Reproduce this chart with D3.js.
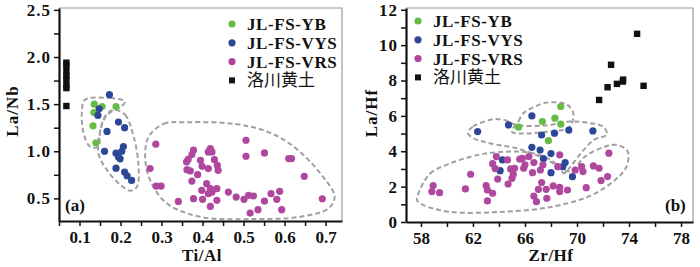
<!DOCTYPE html>
<html>
<head>
<meta charset="utf-8">
<script src="https://cdn.jsdelivr.net/npm/d3@7"></script>
<style>
body { margin: 0; background: #fff; }
svg text { font-family: "Liberation Serif", "Times New Roman", "Noto Sans CJK SC", serif; font-weight: bold; fill: #111; }
</style>
</head>
<body>
<svg width="700" height="267"></svg>
<script>
// ---- data (a) Ti/Al vs La/Nb ----
const seriesNames = ['JL-FS-YB', 'JL-FS-VYS', 'JL-FS-VRS', '洛川黄土'];
const seriesColors = ['#66bb44', '#2c4797', '#b0479e', '#111111'];

const ybA = [[0.136,1.50],[0.135,1.41],[0.155,1.475],[0.189,1.475],[0.133,1.27],[0.140,1.09]];
const vysA = [[0.173,1.60],[0.148,1.45],[0.145,1.38],[0.167,1.21],[0.195,1.31],[0.210,1.25],
	[0.161,1.00],[0.207,1.05],[0.203,1.00],[0.189,0.98],[0.195,0.94],[0.199,0.92],
	[0.189,0.82],[0.210,0.78],[0.216,0.74],[0.227,0.69]];
const vrsA = [[0.286,1.075],[0.272,0.816],[0.287,0.631],[0.299,0.631],[0.341,0.468],
	[0.378,1.011],[0.374,0.965],[0.365,0.915],[0.361,0.887],[0.362,0.805],[0.370,0.791],
	[0.388,0.752],[0.374,0.684],[0.395,0.904],[0.399,0.840],[0.414,0.816],[0.419,1.028],
	[0.414,0.993],[0.423,0.993],[0.429,0.911],[0.436,0.851],[0.438,0.798],[0.410,0.656],
	[0.419,0.603],[0.398,0.585],[0.423,0.567],[0.414,0.550],[0.435,0.603],[0.378,0.497],
	[0.400,0.490],[0.419,0.415],[0.435,0.479],[0.463,0.567],[0.482,0.514],[0.501,0.490],
	[0.512,0.532],[0.524,0.525],[0.516,0.344],[0.535,0.380],[0.506,1.117],[0.506,0.947],
	[0.551,0.982],[0.551,0.472],[0.567,0.550],[0.588,0.575],[0.581,0.490],[0.593,0.380],
	[0.610,0.922],[0.617,0.922],[0.648,0.734],[0.692,0.496]];
const loessAx = 0.068;
const loessAy = [1.94,1.91,1.85,1.80,1.76,1.70,1.67,1.48];

const outlineA = [
	[[0.113,1.546],[0.175,1.564],[0.211,1.528],[0.200,1.468],[0.167,1.386],[0.151,1.227],[0.146,1.05],[0.126,1.05],[0.110,1.19],[0.106,1.44]],
	[[0.183,1.44],[0.211,1.387],[0.232,1.156],[0.244,0.837],[0.240,0.624],[0.224,0.582],[0.200,0.642],[0.167,0.80],[0.146,0.98],[0.151,1.227],[0.162,1.369]],
	[[0.269,1.156],[0.305,1.29],[0.362,1.308],[0.476,1.291],[0.557,1.209],[0.622,1.05],[0.687,0.766],[0.722,0.518],[0.707,0.394],[0.638,0.305],[0.517,0.28],[0.394,0.305],[0.313,0.447],[0.272,0.695],[0.260,0.943]]
];
const ticksAx = [0.1,0.2,0.3,0.4,0.5,0.6,0.7];
const ticksAy = [0.5,1.0,1.5,2.0,2.5];

// ---- data (b) Zr/Hf vs La/Hf ----
const ybB = [[68.75,6.53],[68.3,5.87],[67.34,5.68],[68.75,5.53],[65.5,5.36],[67.8,4.60]];
const vysB = [[62.36,5.11],[64.73,5.49],[66.53,6.0],[67.28,4.92],[68.27,5.02],[69.37,5.2],
	[71.22,5.15],[66.53,4.22],[67.16,4.07],[68.0,3.87],[67.42,3.58],[69.09,3.36],
	[68.91,3.13],[68.0,2.79],[69.65,2.56],[64.27,3.51],[64.09,2.9]];
const vrsB = [[58.94,2.06],[58.84,1.72],[59.43,1.66],[61.42,1.87],[61.82,2.70],[63.01,2.06],
	[63.11,1.81],[63.51,1.62],[63.11,1.19],[63.8,3.70],[63.51,3.30],[63.71,3.02],[63.9,2.43],
	[64.7,2.15],[65.0,2.47],[65.1,2.70],[64.9,3.0],[64.65,3.51],[65.2,3.04],[65.6,3.55],
	[65.8,3.60],[65.9,3.04],[66.0,3.23],[66.3,3.70],[66.68,3.36],[66.58,2.79],[67.38,3.23],
	[67.18,2.94],[68.67,3.79],[68.52,3.13],[67.28,2.23],[67.03,1.85],[66.68,1.47],[66.88,1.15],
	[67.68,1.34],[67.63,1.85],[68.17,2.04],[68.67,1.96],[68.67,1.72],[69.27,1.81],[69.86,2.94],
	[70.36,3.13],[70.46,2.85],[70.71,1.94],[71.26,3.17],[71.7,3.04],[71.85,2.34],[72.35,2.57],
	[72.45,3.89]];
const loessB = [[74.62,10.64],[72.62,8.89],[72.35,7.62],[73.07,7.81],[73.52,7.94],[73.55,8.05],[75.12,7.70],[71.7,6.90]];

const outlineB = [
	[[64.98,5.11],[65.5,5.7],[65.87,6.15],[66.7,6.5],[67.67,6.75],[69.2,6.65],[69.72,6.15],[69.6,5.59],[69.3,5.3],[67.67,5.1],[65.87,5.0]],
	[[61.6,5.05],[62.0,5.4],[62.54,5.59],[63.56,5.81],[64.5,5.75],[65.3,5.5],[67.5,5.45],[69.46,5.68],[71.0,5.59],[72.0,5.39],[72.3,4.95],[71.3,4.64],[70.3,3.89],[69.5,3.13],[69.0,2.75],[68.6,3.1],[67.7,3.51],[66.5,3.89],[65.37,4.17],[63.3,4.45],[62.0,4.75]],
	[[57.8,1.61],[58.7,2.74],[60.25,3.31],[62.3,3.78],[64.4,3.97],[66.45,3.91],[68.0,3.50],[69.0,2.9],[69.6,2.9],[70.6,3.69],[72.1,4.25],[73.15,4.35],[73.9,3.97],[73.8,3.12],[72.9,2.36],[71.1,1.51],[68.0,0.85],[64.1,0.57],[60.25,0.57],[58.2,0.95],[57.7,1.23]]
];
const ticksBx = [58,62,66,70,74,78];
const ticksBy = [0,2,4,6,8,10,12];

const svg = d3.select('svg');

function drawPanel(cfg) {
	let g = svg.append('g');
	let x = d3.scaleLinear().domain(cfg.xDomain).range([cfg.left, cfg.right]);
	let y = d3.scaleLinear().domain(cfg.yDomain).range([cfg.bottom, cfg.top]);

	// frame top/right
	g.append('path')
		.attr('d', 'M' + cfg.left + ',' + cfg.top + 'H' + cfg.right + 'V' + cfg.bottom)
		.attr('fill', 'none').attr('stroke', '#9a9a9a').attr('stroke-width', 1.2);

	// dashed group outlines
	let outline = d3.line().x(d => x(d[0])).y(d => y(d[1])).curve(d3.curveCatmullRomClosed.alpha(0.5));
	g.selectAll('path.outline').data(cfg.outlines).enter().append('path')
		.attr('class', 'outline')
		.attr('d', outline)
		.attr('fill', 'none').attr('stroke', '#a0a0a0').attr('stroke-width', 2)
		.attr('stroke-dasharray', '5,3');

	// points
	cfg.dots.forEach(function(s, i) {
		g.append('g').selectAll('circle').data(s).enter().append('circle')
			.attr('cx', d => x(d[0])).attr('cy', d => y(d[1]))
			.attr('r', 3.6).attr('fill', seriesColors[i]);
	});
	g.append('g').selectAll('rect').data(cfg.squares).enter().append('rect')
		.attr('x', d => x(d[0]) - 3.2).attr('y', d => y(d[1]) - 3.2)
		.attr('width', 6.4).attr('height', 6.4).attr('fill', seriesColors[3]);

	// axes
	let xMinor = g.append('g').attr('transform', 'translate(0,' + cfg.bottom + ')')
		.call(d3.axisBottom(x).tickValues(cfg.xMinor).tickSize(5).tickFormat(''));
	let xAxis = g.append('g').attr('transform', 'translate(0,' + cfg.bottom + ')')
		.call(d3.axisBottom(x).tickValues(cfg.xTicks).tickSize(5).tickSizeOuter(0).tickPadding(5).tickFormat(cfg.xFormat));
	let yMinor = g.append('g').attr('transform', 'translate(' + cfg.left + ',0)')
		.call(d3.axisLeft(y).tickValues(cfg.yMinor).tickSize(5).tickFormat(''));
	let yAxis = g.append('g').attr('transform', 'translate(' + cfg.left + ',0)')
		.call(d3.axisLeft(y).tickValues(cfg.yTicks).tickSize(5).tickSizeOuter(0).tickPadding(3).tickFormat(cfg.yFormat));
	[xMinor, yMinor].forEach(a => a.select('.domain').remove());
	[xMinor, xAxis, yMinor, yAxis].forEach(function(a) {
		a.selectAll('line').attr('stroke', '#111').attr('stroke-width', 1.5);
		a.select('.domain').attr('stroke', '#111').attr('stroke-width', 2.2);
		a.selectAll('text').style('font-size', '17px').attr('fill', '#111');
	});
	yAxis.selectAll('text').style('letter-spacing', '1px');

	// axis titles
	g.append('text').attr('x', cfg.xTitleX).attr('y', 261).attr('text-anchor', 'middle')
		.style('font-size', '17px').style('letter-spacing', '0.5px').text(cfg.xTitle);
	g.append('text').attr('transform', 'translate(' + cfg.yTitleX + ',' + cfg.yTitleY + ') rotate(-90)')
		.attr('text-anchor', 'middle').style('font-size', '17px').style('letter-spacing', '1px').text(cfg.yTitle);

	// panel tag
	g.append('text').attr('x', cfg.tagX).attr('y', 211).style('font-size', '17px').text(cfg.tag);

	// legend
	let leg = g.append('g').selectAll('g').data(seriesNames).enter().append('g')
		.attr('transform', (d, i) => 'translate(' + cfg.legX + ',' + (cfg.legY + i * 18.8) + ')');
	leg.each(function(d, i) {
		let item = d3.select(this);
		if (i < 3) {
			item.append('circle').attr('r', 3.6).attr('fill', seriesColors[i]);
		} else {
			item.append('rect').attr('x', -3).attr('y', -3).attr('width', 6).attr('height', 6).attr('fill', seriesColors[i]);
		}
		item.append('text').attr('x', 15).attr('y', 6)
			.style('font-size', '17px')
			.style('font-weight', i < 3 ? 'bold' : 'normal')
			.style('letter-spacing', i < 3 ? '0.6px' : '0px')
			.text(d);
	});
}

drawPanel({
	left: 59, right: 342, top: 8, bottom: 221,
	xDomain: [0.05, 0.74], yDomain: [0.26, 2.52],
	xTicks: ticksAx, xMinor: [0.05,0.15,0.25,0.35,0.45,0.55,0.65],
	yTicks: ticksAy, yMinor: [0.75,1.25,1.75,2.25],
	xFormat: d3.format('.1f'), yFormat: d3.format('.1f'),
	dots: [ybA, vysA, vrsA],
	squares: loessAy.map(v => [loessAx, v]),
	outlines: outlineA,
	xTitle: 'Ti/Al', xTitleX: 202, yTitle: 'La/Nb', yTitleX: 18, yTitleY: 111,
	tag: '(a)', tagX: 65,
	legX: 232, legY: 24
});

drawPanel({
	left: 406, right: 693, top: 8, bottom: 222,
	xDomain: [56.85, 78.92], yDomain: [0, 12.1],
	xTicks: ticksBx, xMinor: [60,64,68,72,76],
	yTicks: ticksBy, yMinor: [1,3,5,7,9,11],
	xFormat: d3.format('d'), yFormat: d3.format('d'),
	dots: [ybB, vysB, vrsB],
	squares: loessB,
	outlines: outlineB,
	xTitle: 'Zr/Hf', xTitleX: 551, yTitle: 'La/Hf', yTitleX: 377, yTitleY: 113,
	tag: '(b)', tagX: 665,
	legX: 418, legY: 21
});
</script>
</body>
</html>
